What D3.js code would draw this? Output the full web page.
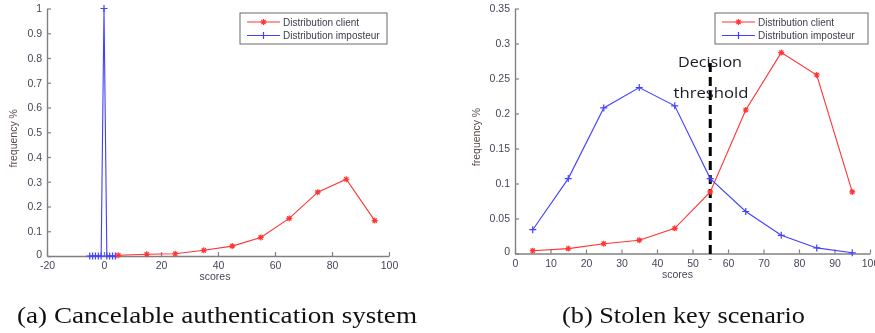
<!DOCTYPE html>
<html>
<head>
<meta charset="utf-8">
<script src="https://cdn.jsdelivr.net/npm/d3@7"></script>
<style>
  html, body { margin: 0; padding: 0; background: #fff; }
  svg { display: block; }
</style>
</head>
<body>
<svg id="fig" width="875" height="333"></svg>
<script>
// ---- data -------------------------------------------------------------
const scoreBins = [5, 15, 25, 35, 45, 55, 65, 75, 85, 95];

// (a) cancelable authentication system
const clientA = [0.003, 0.007, 0.009, 0.023, 0.040, 0.075, 0.152, 0.258, 0.310, 0.143];
const impostorScoresA = [-5, -4, -3, -2, -1, 0, 1, 2, 3, 4];
const impostorA = [0, 0, 0, 0, 0, 1.0, 0, 0, 0, 0];

// (b) stolen key scenario
const clientB = [0.004, 0.007, 0.014, 0.019, 0.036, 0.088, 0.205, 0.287, 0.255, 0.088];
const impostorB = [0.034, 0.107, 0.208, 0.237, 0.211, 0.107, 0.060, 0.026, 0.008, 0.001];
const threshold = 55;

const xTicksA = [-20, 0, 20, 40, 60, 80, 100];
const yTicksA = [0, 0.1, 0.2, 0.3, 0.4, 0.5, 0.6, 0.7, 0.8, 0.9, 1];
const xTicksB = [0, 10, 20, 30, 40, 50, 60, 70, 80, 90, 100];
const yTicksB = [0, 0.05, 0.1, 0.15, 0.2, 0.25, 0.3, 0.35];

const legendLabels = ["Distribution client", "Distribution imposteur"];
const captions = ["(a) Cancelable authentication system", "(b) Stolen key scenario"];

// ---- styles -----------------------------------------------------------
const RED = "#ff3434";
const BLUE = "#4040ff";
const AXIS = "#808080";
const TICKTXT = "#46465a";
const FONT = "'Liberation Sans', Arial, sans-serif";

const svg = d3.select("#fig");

const defs = svg.append("defs");
defs.append("filter").attr("id", "soft")
  .append("feGaussianBlur").attr("stdDeviation", 0.35);

function starPath(s) {
  const d = s * 0.72;
  return `M${-s},0L${s},0M0,${-s}L0,${s}M${-d},${-d}L${d},${d}M${-d},${d}L${d},${-d}`;
}
function plusPath(s) {
  return `M${-s},0L${s},0M0,${-s}L0,${s}`;
}

// plain hyphen-minus, trimmed decimals (e.g. -20, 0.05, 1)
const fmt = d => String(+d.toFixed(2));

function panel(cfg) {
  const g = svg.append("g").attr("filter", "url(#soft)");
  const x = d3.scaleLinear().domain(cfg.xDomain).range(cfg.xRange);
  const y = d3.scaleLinear().domain(cfg.yDomain).range(cfg.yRange);

  // axes with inward ticks
  const xAxis = d3.axisBottom(x).tickValues(cfg.xTicks).tickSizeInner(-4).tickSizeOuter(0)
    .tickPadding(6).tickFormat(fmt);
  const yAxis = d3.axisLeft(y).tickValues(cfg.yTicks).tickSizeInner(-4).tickSizeOuter(0)
    .tickPadding(5).tickFormat(fmt);

  const gx = g.append("g").attr("transform", `translate(0,${cfg.yRange[0]})`).call(xAxis);
  const gy = g.append("g").attr("transform", `translate(${cfg.xRange[0]},0)`).call(yAxis);
  [gx, gy].forEach(a => {
    a.select(".domain").attr("stroke", AXIS).attr("stroke-width", 1.4);
    a.selectAll(".tick line").attr("stroke", AXIS).attr("stroke-width", 1.2);
    a.selectAll(".tick text").attr("fill", TICKTXT).attr("font-family", FONT).attr("font-size", 10.5);
  });
  // the corner "0" of the y axis sits a touch higher so it clears the x labels
  gy.selectAll(".tick text").filter(d => d === 0).attr("dy", "0.1em");

  // axis titles
  g.append("text").attr("x", (cfg.xRange[0] + cfg.xRange[1]) / 2 + cfg.xTitleDx).attr("y", cfg.yRange[0] + 24)
    .attr("text-anchor", "middle").attr("font-family", FONT).attr("font-size", 10.5)
    .attr("fill", TICKTXT).text("scores");
  g.append("text")
    .attr("transform", `translate(${cfg.yTitleX},${(cfg.yRange[0] + cfg.yRange[1]) / 2 + 6}) rotate(-90)`)
    .attr("text-anchor", "middle").attr("font-family", FONT).attr("font-size", 10.5)
    .attr("fill", "#5a4848").text("frequency %");

  const line = d3.line().x(d => x(d[0])).y(d => y(d[1]));

  if (cfg.extra) cfg.extra(g, x, y);

  cfg.series.forEach(s => {
    const pts = s.xs.map((v, i) => [v, s.ys[i]]);
    g.append("path").attr("d", line(pts)).attr("fill", "none")
      .attr("stroke", s.color).attr("stroke-width", 1.1);
    g.append("g").selectAll("path").data(pts).join("path")
      .attr("transform", d => `translate(${x(d[0])},${y(d[1])})`)
      .attr("d", s.marker).attr("fill", "none")
      .attr("stroke", s.color).attr("stroke-width", 1.2);
  });

  // legend
  const lg = g.append("g").attr("transform", `translate(${cfg.legend[0]},${cfg.legend[1]})`);
  lg.append("rect").attr("width", cfg.legend[2]).attr("height", 31)
    .attr("fill", "#fff").attr("stroke", "#6a6a6a").attr("stroke-width", 1);
  [[RED, starPath(3)], [BLUE, plusPath(3.5)]].forEach((m, i) => {
    const yy = 9 + i * 13.5;
    lg.append("line").attr("x1", 7).attr("x2", cfg.legendLine).attr("y1", yy).attr("y2", yy)
      .attr("stroke", m[0]).attr("stroke-width", 1.1);
    lg.append("path").attr("d", m[1]).attr("transform", `translate(${(7 + cfg.legendLine) / 2},${yy})`)
      .attr("stroke", m[0]).attr("fill", "none").attr("stroke-width", 1.2);
    lg.append("text").attr("x", cfg.legendLine + 3).attr("y", yy + 3.5)
      .attr("font-family", FONT).attr("font-size", 10).attr("fill", "#3c3c4c")
      .text(legendLabels[i]);
  });
  return { x, y };
}

// (a)
panel({
  xDomain: [-20, 100], xRange: [47, 389],
  yDomain: [0, 1], yRange: [256, 8.5],
  xTicks: xTicksA, yTicks: yTicksA,
  xTitleDx: -3, yTitleX: 17,
  legend: [240, 13, 147], legendLine: 40,
  series: [
    { xs: impostorScoresA, ys: impostorA, color: BLUE, marker: plusPath(3.5) },
    { xs: scoreBins, ys: clientA, color: RED, marker: starPath(3) }
  ]
});

// (b)
panel({
  xDomain: [0, 100], xRange: [515, 870],
  yDomain: [0, 0.35], yRange: [253.5, 8.5],
  xTicks: xTicksB, yTicks: yTicksB,
  xTitleDx: -15, yTitleX: 480,
  legend: [715, 13, 153], legendLine: 40,
  series: [
    { xs: scoreBins, ys: clientB, color: RED, marker: starPath(3) },
    { xs: scoreBins, ys: impostorB, color: BLUE, marker: plusPath(3.5) }
  ],
  extra: (g, x, y) => {
    g.append("line").attr("x1", x(threshold)).attr("x2", x(threshold))
      .attr("y1", 63).attr("y2", y(0) + 6)
      .attr("stroke", "#000").attr("stroke-width", 3).attr("stroke-dasharray", "9,5");
  }
});

// decision threshold annotation
const ann = svg.append("g").attr("font-family", "'Open Sans', 'Noto Sans', sans-serif")
  .attr("font-size", 15).attr("fill", "#1a1a2a").attr("text-anchor", "middle");
ann.append("text").attr("x", 710).attr("y", 67).attr("textLength", 64)
  .attr("lengthAdjust", "spacingAndGlyphs").text("Decision");
ann.append("text").attr("x", 711).attr("y", 98).attr("textLength", 75)
  .attr("lengthAdjust", "spacingAndGlyphs").text("threshold");

// subfigure captions
const cap = svg.append("g").attr("font-family", "'Liberation Serif', 'DejaVu Serif', serif")
  .attr("font-size", 23).attr("fill", "#111");
cap.append("text").attr("x", 17).attr("y", 323).attr("textLength", 400)
  .attr("lengthAdjust", "spacingAndGlyphs").text(captions[0]);
cap.append("text").attr("x", 562).attr("y", 323).attr("textLength", 243)
  .attr("lengthAdjust", "spacingAndGlyphs").text(captions[1]);
</script>
</body>
</html>
